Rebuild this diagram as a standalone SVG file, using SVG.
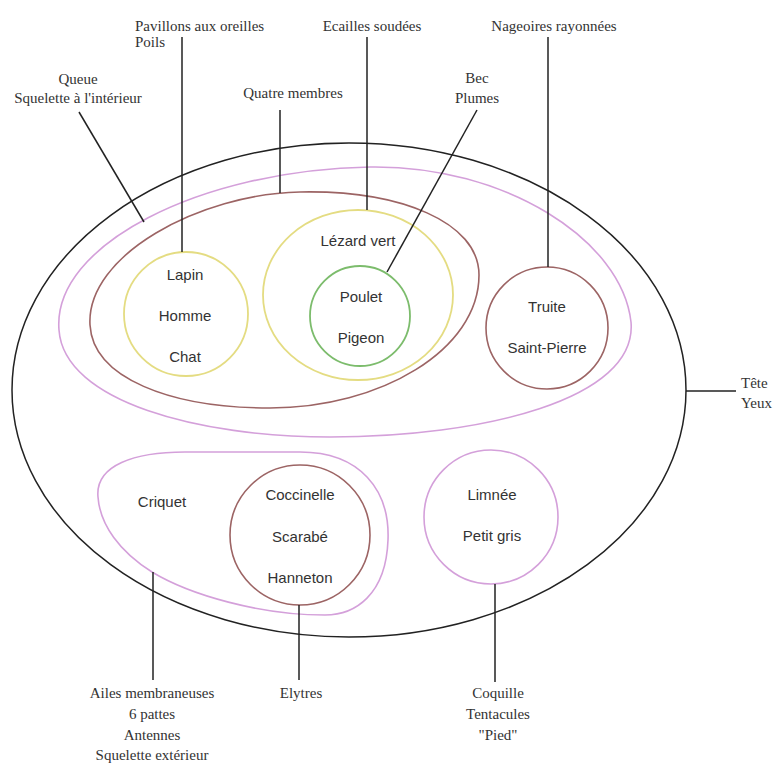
<svg xmlns="http://www.w3.org/2000/svg" width="773" height="763" viewBox="0 0 773 763">
<style>
.serif{font-family:"Liberation Serif","Times New Roman",serif;font-size:15px;fill:#333;text-anchor:middle}
.sans{font-family:"Liberation Sans",Arial,sans-serif;font-size:15px;fill:#333;text-anchor:middle}
.blk{fill:none;stroke:#222;stroke-width:1.5}
.pink{fill:none;stroke:#d4a0da;stroke-width:1.6}
.brown{fill:none;stroke:#9c6464;stroke-width:1.6}
.yellow{fill:none;stroke:#e4dc82;stroke-width:1.8}
.green{fill:none;stroke:#7cbc6c;stroke-width:1.8}
.ln{stroke:#222;stroke-width:1.5;fill:none}
</style>
<rect width="773" height="763" fill="#fff"/>
<g id="animaux"><ellipse class="blk" cx="349" cy="390" rx="337" ry="247"/></g>
<g id="vertebres"><path class="pink" d="M 59 330 C 52 245 200 170 370 167 C 505 165 622 240 631 322 C 638 400 480 437 330 437 C 200 437 64 402 59 330 Z"/></g>
<g id="tetrapodes"><path class="brown" d="M 90 325 C 86 255 200 194 300 192 C 400 190 479 222 479 275 C 479 350 380 408 270 408 C 170 408 93 378 90 325 Z"/></g>
<g id="mammiferes"><circle class="yellow" cx="186" cy="314" r="62"/>
<text class="sans" x="185" y="280">Lapin</text><text class="sans" x="185" y="321">Homme</text><text class="sans" x="185" y="362">Chat</text></g>
<g id="reptiles"><ellipse class="yellow" cx="358" cy="295" rx="95" ry="85"/>
<text class="sans" x="358" y="246">Lézard vert</text></g>
<g id="oiseaux"><circle class="green" cx="360" cy="316" r="50"/>
<text class="sans" x="361" y="302">Poulet</text><text class="sans" x="361" y="343">Pigeon</text></g>
<g id="poissons"><circle class="brown" cx="547" cy="328" r="61"/>
<text class="sans" x="547" y="312">Truite</text><text class="sans" x="547" y="353">Saint-Pierre</text></g>
<g id="insectes"><path class="pink" d="M 98 497 C 95 465 135 452 185 452 L 300 452 C 360 452 390 490 388 540 C 386 595 355 615 325 615 C 260 615 190 595 152 572 C 120 552 100 525 98 497 Z"/>
<text class="sans" x="162" y="507">Criquet</text></g>
<g id="coleopteres"><circle class="brown" cx="300" cy="535" r="70"/>
<text class="sans" x="300" y="500">Coccinelle</text><text class="sans" x="300" y="542">Scarabé</text><text class="sans" x="300" y="583">Hanneton</text></g>
<g id="mollusques"><circle class="pink" cx="491" cy="517" r="67"/>
<text class="sans" x="492" y="500">Limnée</text><text class="sans" x="492" y="541">Petit gris</text></g>
<g id="connecteurs">
<line class="ln" x1="182" y1="37" x2="182" y2="252"/>
<line class="ln" x1="367" y1="37" x2="367" y2="210"/>
<line class="ln" x1="280" y1="110" x2="280" y2="193"/>
<line class="ln" x1="79" y1="112" x2="144" y2="222"/>
<line class="ln" x1="477" y1="110" x2="387" y2="272"/>
<line class="ln" x1="548" y1="37" x2="548" y2="267"/>
<line class="ln" x1="686" y1="391" x2="736" y2="391"/>
<line class="ln" x1="153" y1="572" x2="153" y2="680"/>
<line class="ln" x1="299" y1="605" x2="299" y2="680"/>
<line class="ln" x1="495" y1="584" x2="495" y2="682"/>
</g>
<g id="labels">
<text class="serif" x="135" y="31" style="text-anchor:start">Pavillons aux oreilles</text>
<text class="serif" x="135" y="47" style="text-anchor:start">Poils</text>
<text class="serif" x="372" y="31">Ecailles soudées</text>
<text class="serif" x="554" y="31">Nageoires rayonnées</text>
<text class="serif" x="78" y="84">Queue</text>
<text class="serif" x="78" y="103">Squelette à l'intérieur</text>
<text class="serif" x="293" y="98">Quatre membres</text>
<text class="serif" x="477" y="83">Bec</text>
<text class="serif" x="477" y="103">Plumes</text>
<text class="serif" x="741" y="388" style="text-anchor:start">Tête</text>
<text class="serif" x="741" y="408" style="text-anchor:start">Yeux</text>
<text class="serif" x="152" y="698">Ailes membraneuses</text>
<text class="serif" x="152" y="719">6 pattes</text>
<text class="serif" x="152" y="740">Antennes</text>
<text class="serif" x="152" y="760">Squelette extérieur</text>
<text class="serif" x="301" y="698">Elytres</text>
<text class="serif" x="498" y="698">Coquille</text>
<text class="serif" x="498" y="719">Tentacules</text>
<text class="serif" x="498" y="740">"Pied"</text>
</g>
</svg>
